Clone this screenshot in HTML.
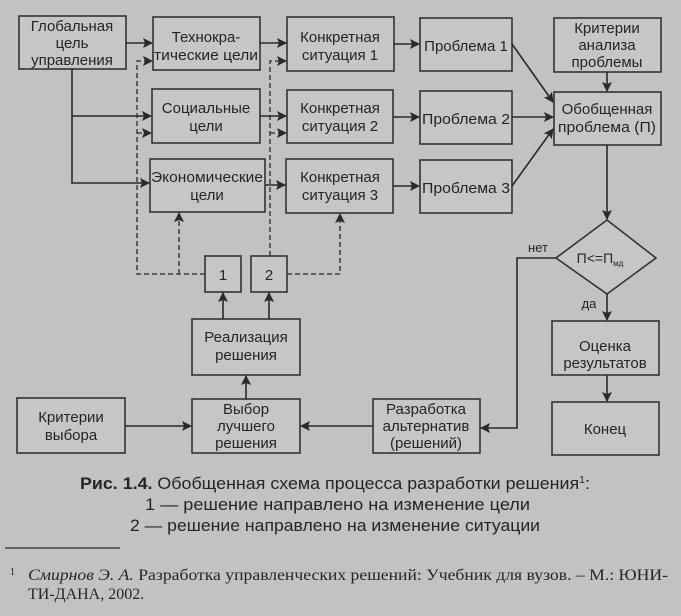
<!DOCTYPE html>
<html><head><meta charset="utf-8"><style>
html,body{margin:0;padding:0;background:#c2c2c0;}
svg{display:block;}
text{font-family:"Liberation Sans",sans-serif;fill:#252525;}
</style></head><body>
<svg width="681" height="616" viewBox="0 0 681 616">
<defs>
<marker id="a" markerWidth="10" markerHeight="10" refX="9" refY="5" orient="auto" markerUnits="userSpaceOnUse">
<path d="M0,0 L10,5 L0,10 L2,5 Z" fill="#2a2a2a"/></marker>
</defs>
<rect width="681" height="616" fill="#c2c2c0"/>
<g fill="#c6c6c4" stroke="#333" stroke-width="1.6">
<rect x="19" y="16" width="107" height="53"/>
<rect x="153" y="17" width="107" height="53"/>
<rect x="287" y="17" width="107" height="54"/>
<rect x="420" y="18" width="92" height="53"/>
<rect x="554" y="18" width="107" height="54"/>
<rect x="152" y="89" width="108" height="54"/>
<rect x="287" y="90" width="106" height="53"/>
<rect x="420" y="91" width="92" height="53"/>
<rect x="554" y="92" width="107" height="53"/>
<rect x="150" y="159" width="115" height="53"/>
<rect x="286" y="159" width="107" height="54"/>
<rect x="420" y="160" width="92" height="53"/>
<polygon points="607,220 656,258 607,294 556,258"/>
<rect x="205" y="256" width="36" height="36"/>
<rect x="251" y="256" width="36" height="36"/>
<rect x="192" y="319" width="108" height="56"/>
<rect x="552" y="321" width="107" height="54"/>
<rect x="17" y="398" width="108" height="55"/>
<rect x="192" y="399" width="108" height="54"/>
<rect x="373" y="399" width="107" height="54"/>
<rect x="552" y="402" width="107" height="53"/>
</g>
<g stroke="#2a2a2a" stroke-width="1.6" fill="none">
<line x1="126" y1="43" x2="152" y2="43" marker-end="url(#a)"/>
<polyline points="72,69 72,183 149,183" marker-end="url(#a)"/>
<line x1="72" y1="116" x2="151" y2="116" marker-end="url(#a)"/>
<line x1="260" y1="43" x2="286" y2="43" marker-end="url(#a)"/>
<line x1="260" y1="116" x2="286" y2="116" marker-end="url(#a)"/>
<line x1="265" y1="185" x2="285" y2="185" marker-end="url(#a)"/>
<line x1="394" y1="44" x2="419" y2="44" marker-end="url(#a)"/>
<line x1="393" y1="117" x2="419" y2="117" marker-end="url(#a)"/>
<line x1="393" y1="186" x2="419" y2="186" marker-end="url(#a)"/>
<line x1="512" y1="44" x2="553" y2="102" marker-end="url(#a)"/>
<line x1="512" y1="117" x2="553" y2="117" marker-end="url(#a)"/>
<line x1="512" y1="186" x2="553" y2="129" marker-end="url(#a)"/>
<line x1="607" y1="72" x2="607" y2="91" marker-end="url(#a)"/>
<line x1="607" y1="145" x2="607" y2="219" marker-end="url(#a)"/>
<line x1="607" y1="294" x2="607" y2="320" marker-end="url(#a)"/>
<line x1="607" y1="375" x2="607" y2="401" marker-end="url(#a)"/>
<polyline points="556,258 517,258 517,428 481,428" marker-end="url(#a)"/>
<line x1="373" y1="426" x2="301" y2="426" marker-end="url(#a)"/>
<line x1="125" y1="426" x2="191" y2="426" marker-end="url(#a)"/>
<line x1="246" y1="399" x2="246" y2="376" marker-end="url(#a)"/>
<line x1="223" y1="319" x2="223" y2="293" marker-end="url(#a)"/>
<line x1="269" y1="319" x2="269" y2="293" marker-end="url(#a)"/>
</g>
<g stroke="#2a2a2a" stroke-width="1.3" fill="none" stroke-dasharray="5,3">
<polyline points="205,274 137,274 137,61 152,61" marker-end="url(#a)"/>
<line x1="137" y1="133" x2="151" y2="133" marker-end="url(#a)"/>
<line x1="179" y1="274" x2="179" y2="213" marker-end="url(#a)"/>
<polyline points="270,256 270,61 286,61" marker-end="url(#a)"/>
<line x1="270" y1="133" x2="286" y2="133" marker-end="url(#a)"/>
<polyline points="287,274 340,274 340,214" marker-end="url(#a)"/>
</g>
<g font-size="15" text-anchor="middle">
<text x="72" y="31">Глобальная</text><text x="72" y="48">цель</text><text x="72" y="65">управления</text>
<text x="206" y="42">Технокра-</text><text x="206" y="60" textLength="104" lengthAdjust="spacingAndGlyphs">тические цели</text>
<text x="340" y="42">Конкретная</text><text x="340" y="60">ситуация 1</text>
<text x="466" y="51">Проблема 1</text>
<text x="607" y="33">Критерии</text><text x="607" y="50">анализа</text><text x="607" y="67">проблемы</text>
<text x="206" y="113">Социальные</text><text x="206" y="131">цели</text>
<text x="340" y="113">Конкретная</text><text x="340" y="131">ситуация 2</text>
<text x="466" y="124" textLength="88" lengthAdjust="spacingAndGlyphs">Проблема 2</text>
<text x="607" y="114">Обобщенная</text><text x="607" y="132" textLength="98" lengthAdjust="spacingAndGlyphs">проблема (П)</text>
<text x="207" y="182" textLength="112" lengthAdjust="spacingAndGlyphs">Экономические</text><text x="207" y="200">цели</text>
<text x="340" y="182">Конкретная</text><text x="340" y="200">ситуация 3</text>
<text x="466" y="193" textLength="88" lengthAdjust="spacingAndGlyphs">Проблема 3</text>
<text x="223" y="280">1</text><text x="269" y="280">2</text>
<text x="246" y="342">Реализация</text><text x="246" y="360">решения</text>
<text x="71" y="422">Критерии</text><text x="71" y="440">выбора</text>
<text x="246" y="414">Выбор</text><text x="246" y="431">лучшего</text><text x="246" y="448">решения</text>
<text x="426" y="414">Разработка</text><text x="426" y="431">альтернатив</text><text x="426" y="448">(решений)</text>
<text x="605" y="351">Оценка</text><text x="605" y="368">результатов</text>
<text x="605" y="434">Конец</text>
<text x="600" y="263" font-size="14">П&lt;=П<tspan font-size="8" dy="3">мд</tspan></text>
<text x="538" y="252" font-size="13">нет</text>
<text x="589" y="308" font-size="13">да</text>
</g>
<text x="80" y="489" font-size="17" textLength="510" lengthAdjust="spacingAndGlyphs"><tspan font-weight="bold">Рис. 1.4.</tspan> Обобщенная схема процесса разработки решения<tspan font-size="10" dy="-6">1</tspan><tspan dy="6">:</tspan></text>
<text x="145" y="510" font-size="17" textLength="385" lengthAdjust="spacingAndGlyphs">1 — решение направлено на изменение цели</text>
<text x="130" y="531" font-size="17" textLength="410" lengthAdjust="spacingAndGlyphs">2 — решение направлено на изменение ситуации</text>
<line x1="5" y1="548" x2="120" y2="548" stroke="#2a2a2a" stroke-width="1.2"/>
<text x="10" y="575" font-size="10" style="font-family:'Liberation Serif',serif">1</text>
<text x="28" y="580" font-size="16" textLength="640" lengthAdjust="spacingAndGlyphs" style="font-family:'Liberation Serif',serif"><tspan font-style="italic">Смирнов Э. А.</tspan> Разработка управленческих решений: Учебник для вузов. – М.: ЮНИ-</text>
<text x="28" y="599" font-size="16" style="font-family:'Liberation Serif',serif">ТИ-ДАНА, 2002.</text>
</svg>
</body></html>
